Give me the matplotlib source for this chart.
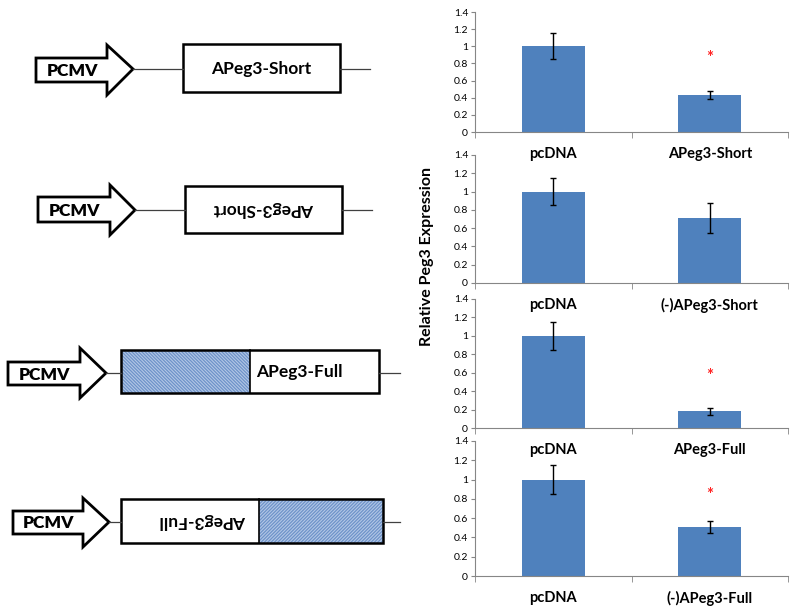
import matplotlib
matplotlib.use("Agg")
import matplotlib.pyplot as plt
from matplotlib.patches import Polygon, Rectangle

plt.rcParams['font.family'] = ['Lato', 'DejaVu Sans']
plt.rcParams['hatch.linewidth'] = 0.9

# ---- data ----
categories = [
    ["pcDNA", "APeg3-Short"],
    ["pcDNA", "(-)APeg3-Short"],
    ["pcDNA", "APeg3-Full"],
    ["pcDNA", "(-)APeg3-Full"],
]
values = [
    [1.00, 0.43],
    [1.00, 0.71],
    [1.00, 0.18],
    [1.00, 0.51],
]
errors = [
    [0.15, 0.045],
    [0.15, 0.16],
    [0.15, 0.035],
    [0.15, 0.06],
]
star_heights = [0.86, None, 0.56, 0.84]
ytick_vals = [0, 0.2, 0.4, 0.6, 0.8, 1.0, 1.2, 1.4]
ytick_labels = ["0", "0.2", "0.4", "0.6", "0.8", "1", "1.2", "1.4"]
ylabel = "Relative Peg3 Expression"

# ---- layout (pixel rows of the four panels: top of 1.4, bottom at 0) ----
W, H = 800, 614
panel_rows = [(12, 132), (155, 283), (299, 428), (441, 576)]
panel_x = (475, 788)
bar_color = "#4F81BD"
axis_gray = "#868686"

fig = plt.figure(figsize=(W / 100, H / 100), dpi=100)

# ---- diagram layer ----
dax = fig.add_axes([0, 0, 1, 1])
dax.set_xlim(0, W)
dax.set_ylim(H, 0)
dax.axis("off")

def draw_arrow(bl, bt, bb, hs, ht, hb, tip, ty):
    pts = [(bl, bt), (hs, bt), (hs, ht), (tip, ty), (hs, hb), (hs, bb), (bl, bb)]
    dax.add_patch(Polygon(pts, closed=True, facecolor="white",
                          edgecolor="black", lw=2.0, joinstyle="miter"))
    dax.text((bl + hs) / 2 + 1, (bt + bb) / 2 + 1, "PCMV", ha="center", va="center",
             fontsize=12.5, fontweight="heavy")

def draw_line(x0, x1, y):
    dax.plot([x0, x1], [y, y], color="#404040", lw=0.9)

def hatch_rect(x0, x1, y0, y1, pattern):
    dax.add_patch(Rectangle((x0, y0), x1 - x0, y1 - y0, facecolor="#B3C7E6",
                            edgecolor="#6E93C9", lw=0, hatch=pattern))

def box(x0, x1, y0, y1):
    dax.add_patch(Rectangle((x0, y0), x1 - x0, y1 - y0, facecolor="none",
                            edgecolor="black", lw=1.8))

# construct 1
draw_arrow(36, 58, 82, 107, 45, 95, 133, 69)
draw_line(133, 183, 69)
box(183, 340, 44, 92)
draw_line(340, 370, 69)
dax.text(261.5, 69, "APeg3-Short", ha="center", va="center", fontsize=12.5, fontweight="bold")

# construct 2 (inverted)
draw_arrow(38, 197, 222, 110, 185, 235, 135, 210)
draw_line(135, 185, 210)
box(185, 342, 186, 233)
draw_line(342, 372, 210)
dax.text(263.5, 209, "APeg3-Short", ha="center", va="center", fontsize=12.5,
         fontweight="bold", rotation=180)

# construct 3
draw_arrow(8, 362, 385, 80, 348, 398, 106, 373)
draw_line(106, 121, 373)
hatch_rect(121, 250, 350, 393, "\\\\\\\\\\\\\\\\\\\\")
dax.plot([250, 250], [350, 393], color="black", lw=1.2)
box(121, 379, 350, 393)
draw_line(379, 400, 373)
dax.text(256, 372, "APeg3-Full", ha="left", va="center", fontsize=12.5, fontweight="bold")

# construct 4 (inverted)
draw_arrow(13, 511, 534, 83, 498, 547, 109, 522)
draw_line(109, 121, 522)
hatch_rect(259, 383, 499, 543, "//////////")
dax.plot([259, 259], [499, 543], color="black", lw=1.2)
box(121, 383, 499, 543)
draw_line(383, 400, 522)
dax.text(203, 521, "APeg3-Full", ha="center", va="center", fontsize=12.5,
         fontweight="bold", rotation=180)

# ---- bar panels ----
x_pos = [0, 1]
for i, (top, bot) in enumerate(panel_rows):
    rect = [panel_x[0] / W, 1 - bot / H, (panel_x[1] - panel_x[0]) / W, (bot - top) / H]
    ax = fig.add_axes(rect)
    ax.patch.set_alpha(0)
    ax.bar(x_pos, values[i], width=0.4, color=bar_color, zorder=2)
    ax.errorbar(x_pos, values[i], yerr=errors[i], fmt="none", ecolor="black",
                elinewidth=1.0, capsize=2.5, capthick=1.0, zorder=3)
    if star_heights[i] is not None:
        ax.text(1, star_heights[i], "*", color="#FF2020", ha="center", va="center",
                fontsize=12, fontweight="bold")
    ax.set_xlim(-0.5, 1.5)
    ax.set_ylim(0, 1.4)
    ax.set_yticks(ytick_vals)
    ax.set_yticklabels(ytick_labels, fontsize=7.5)
    ax.set_xticks(x_pos)
    ax.set_xticklabels(categories[i], fontsize=10.5, fontweight="bold")
    ax.tick_params(axis="x", which="major", length=0, pad=11)
    ax.set_xticks([-0.5, 0.5, 1.5], minor=True)
    ax.tick_params(axis="x", which="minor", length=4, color=axis_gray, direction="out")
    ax.tick_params(axis="y", length=3, color=axis_gray, pad=2)
    for s in ["top", "right"]:
        ax.spines[s].set_visible(False)
    for s in ["left", "bottom"]:
        ax.spines[s].set_color(axis_gray)
        ax.spines[s].set_linewidth(0.8)

fig.text(427 / W, 1 - 256 / H, ylabel, rotation=90, ha="center", va="center",
         fontsize=11.5, fontweight="bold")

fig.savefig("out.png", dpi=100)
